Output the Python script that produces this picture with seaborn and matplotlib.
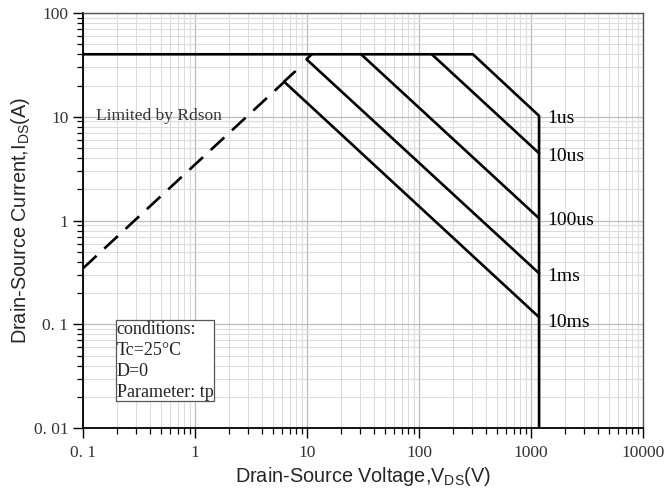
import numpy as np
import pandas as pd
import matplotlib
matplotlib.use("Agg")
import matplotlib.pyplot as plt
from matplotlib.ticker import FixedLocator, LogLocator, NullFormatter
import seaborn as sns

# SOA curve data (V, A)
limit_v = [0.1, 303, 1180, 1180]
limit_i = [40, 40, 10.2, 0.01]

us10_v = [130, 1180]
us10_i = [40, 4.45]

us100_v = [30.4, 1180]
us100_i = [40, 1.05]

ms1_v = [11.0, 9.9, 1180]
ms1_i = [40, 35.8, 0.31]

ms10_v = [7.8, 6.24, 1180]
ms10_i = [27.2, 21.8, 0.117]

rdson_v = [0.1, 6.24]
rdson_i = [0.346, 21.6]

curve_names = ["1us", "10us", "100us", "1ms", "10ms"]
curve_label_i = [9.6, 4.15, 0.99, 0.29, 0.104]

x_ticks = [0.1, 1, 10, 100, 1000, 10000]
x_tick_labels = ["0. 1", "1", "10", "100", "1000", "10000"]
y_ticks = [0.01, 0.1, 1, 10, 100]
y_tick_labels = ["0. 01", "0. 1", "1", "10", "100"]

conditions = "conditions:\nTc=25\u00b0C\nD=0\nParameter: tp"

sns.set_style("white")
plt.rcParams["mathtext.default"] = "regular"

fig = plt.figure(figsize=(6.66, 4.92), dpi=100)
ax = fig.add_axes([0.1246, 0.130, 0.8409, 0.8436])

lw = 1.9
for xs, ys in [(limit_v, limit_i), (us10_v, us10_i), (us100_v, us100_i),
               (ms1_v, ms1_i), (ms10_v, ms10_i)]:
    sns.lineplot(x=xs, y=ys, sort=False, estimator=None, color="black",
                 linewidth=lw, ax=ax)

sns.lineplot(x=rdson_v, y=rdson_i, sort=False, estimator=None, color="black",
             linewidth=lw, ax=ax)
ax.lines[-1].set_dashes([7, 4])

ax.set_xscale("log")
ax.set_yscale("log")
ax.set_xlim(0.1, 10000)
ax.set_ylim(0.01, 100)

ax.xaxis.set_major_locator(FixedLocator(x_ticks))
ax.set_xticklabels(x_tick_labels)
ax.yaxis.set_major_locator(FixedLocator(y_ticks))
ax.set_yticklabels(y_tick_labels)
ax.xaxis.set_minor_locator(LogLocator(base=10, subs=np.arange(2, 10)))
ax.yaxis.set_minor_locator(LogLocator(base=10, subs=np.arange(2, 10)))
ax.xaxis.set_minor_formatter(NullFormatter())
ax.yaxis.set_minor_formatter(NullFormatter())

ax.grid(which="major", color="#bdbdbd", linewidth=0.9)
ax.grid(which="minor", color="#dcdcdc", linewidth=0.8)
ax.set_axisbelow(True)

for lab in ax.get_xticklabels() + ax.get_yticklabels():
    lab.set_family("Liberation Serif")
    lab.set_fontsize(12.5)
    lab.set_color("#333333")

ax.tick_params(axis="both", which="major", direction="out", length=7,
               width=1.0, color="black", bottom=True, left=True)
ax.tick_params(axis="both", which="minor", direction="out", length=4,
               width=0.9, color="black", bottom=True, left=True)
ax.tick_params(axis="x", pad=5)

for side in ["left", "bottom"]:
    ax.spines[side].set_color("black")
    ax.spines[side].set_linewidth(1.3)
for side in ["top", "right"]:
    ax.spines[side].set_color("#555555")
    ax.spines[side].set_linewidth(1.0)

ax.set_xlabel("Drain-Source Voltage,V$_{DS}$(V)", family="Liberation Sans",
              fontsize=14.3, labelpad=3)
ax.set_ylabel("Drain-Source Current,I$_{DS}$(A)", family="Liberation Sans",
              fontsize=14.3, labelpad=1)

ax.text(0.13, 10.2, "Limited by Rdson", family="Liberation Serif",
        fontsize=12.5, color="#333333", va="center", ha="left")

for name, yi in zip(curve_names, curve_label_i):
    ax.text(1400, yi, name, family="Liberation Serif", fontsize=14,
            color="black", va="center", ha="left")

ax.text(0.2, 0.108, conditions, family="Liberation Serif", fontsize=13,
        color="#222222", va="top", ha="left", linespacing=1.3,
        bbox=dict(boxstyle="square,pad=0.05", facecolor="white",
                  edgecolor="#555555", linewidth=0.9))

fig.savefig("out.png", dpi=100)
